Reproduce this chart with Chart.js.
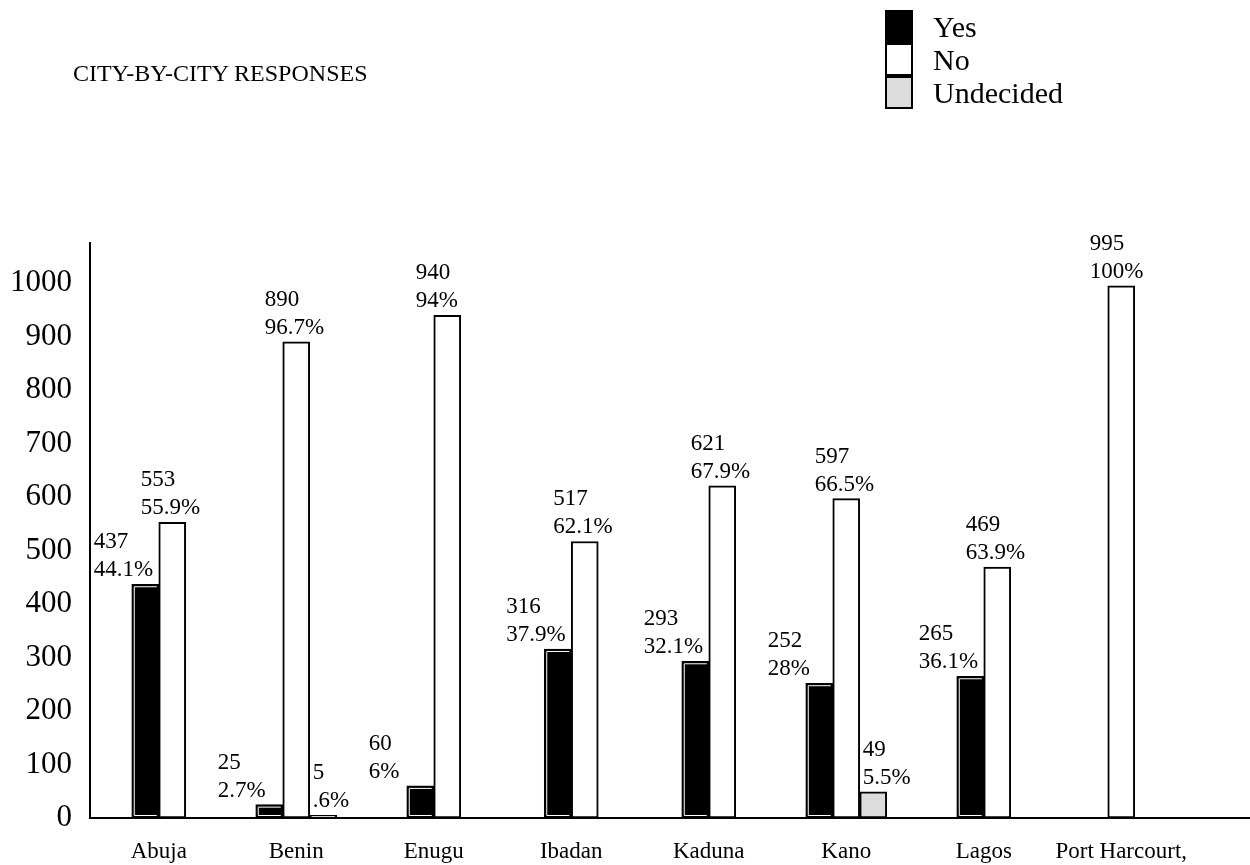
<!DOCTYPE html>
<html>
<head>
<meta charset="utf-8">
<script src="https://cdn.jsdelivr.net/npm/chart.js@4/dist/chart.umd.min.js"></script>
<style>
    html, body { margin: 0; padding: 0; background: #fff; }
    #wrap { position: relative; width: 1250px; height: 865px; font-family: 'Liberation Serif', 'Times New Roman', serif; color: #000; }
    #title { position: absolute; left: 73px; top: 60px; font-size: 24px; white-space: nowrap; }
    #legend { position: absolute; left: 885px; top: 10px; }
    .item { display: flex; align-items: center; height: 33px; }
    .box { width: 24px; height: 29px; border: 2px solid #000; margin-right: 20px; }
    .item span { font-size: 30px; line-height: 30px; }
</style>
</head>
<body>
<div id="wrap">
    <canvas id="chart" width="1250" height="865"></canvas>
    <div id="title">CITY-BY-CITY RESPONSES</div>
    <div id="legend"></div>
</div>
<script>
    // Data
    const cities = ['Abuja', 'Benin', 'Enugu', 'Ibadan', 'Kaduna', 'Kano', 'Lagos', 'Port Harcourt,'];
    const yesCounts = [437, 25, 60, 316, 293, 252, 265, null];
    const noCounts = [553, 890, 940, 517, 621, 597, 469, 995];
    const undecidedCounts = [null, 5, null, null, null, 49, null, null];
    const yesPct = ['44.1%', '2.7%', '6%', '37.9%', '32.1%', '28%', '36.1%', null];
    const noPct = ['55.9%', '96.7%', '94%', '62.1%', '67.9%', '66.5%', '63.9%', '100%'];
    const undecidedPct = [null, '.6%', null, null, null, '5.5%', null, null];
    const yTicks = [0, 100, 200, 300, 400, 500, 600, 700, 800, 900, 1000];

    const serif = "'Liberation Serif', 'Times New Roman', serif";
    const pctLists = [yesPct, noPct, undecidedPct];
    const labelShift = [-38, -18, 3];

    // Two-line value labels above each bar
    const valueLabels = {
        id: 'valueLabels',
        afterDatasetsDraw(chart) {
            const ctx = chart.ctx;
            ctx.save();
            ctx.font = '23px ' + serif;
            ctx.fillStyle = '#000';
            ctx.textAlign = 'left';
            ctx.textBaseline = 'alphabetic';
            chart.data.datasets.forEach((ds, i) => {
                chart.getDatasetMeta(i).data.forEach((bar, j) => {
                    const v = ds.data[j];
                    if (v === null || v === undefined) return;
                    const left = bar.x - bar.width / 2 + labelShift[i];
                    ctx.fillText(String(v), left, bar.y - 36);
                    ctx.fillText(pctLists[i][j], left, bar.y - 8);
                });
            });
            ctx.restore();
        }
    };

    // White inner line on the black bars, and x axis line running to the edge
    const barTrim = {
        id: 'barTrim',
        afterDatasetDraw(chart, args) {
            if (args.index !== 0) return;
            const ctx = chart.ctx;
            ctx.save();
            ctx.strokeStyle = '#fff';
            ctx.lineWidth = 1;
            args.meta.data.forEach((bar, j) => {
                if (yesCounts[j] === null) return;
                const l = bar.x - bar.width / 2 + 2.5;
                const r = bar.x + bar.width / 2 - 2;
                const t = bar.y + 2.5;
                const b = bar.base - 2.5;
                ctx.beginPath();
                ctx.moveTo(r, t);
                ctx.lineTo(l, t);
                ctx.lineTo(l, b);
                ctx.lineTo(r, b);
                ctx.stroke();
            });
            ctx.restore();
        },
        afterDraw(chart) {
            const ctx = chart.ctx;
            const a = chart.chartArea;
            ctx.save();
            ctx.strokeStyle = '#000';
            ctx.lineWidth = 2;
            ctx.beginPath();
            ctx.moveTo(a.left - 1, a.bottom);
            ctx.lineTo(chart.width, a.bottom);
            ctx.stroke();
            ctx.restore();
        }
    };

    const chart = new Chart(document.getElementById('chart'), {
        type: 'bar',
        data: {
            labels: cities,
            datasets: [{
                label: 'Yes',
                data: yesCounts,
                backgroundColor: '#000'
            }, {
                label: 'No',
                data: noCounts,
                backgroundColor: '#fff'
            }, {
                label: 'Undecided',
                data: undecidedCounts,
                backgroundColor: '#dcdcdc'
            }]
        },
        options: {
            responsive: false,
            animation: false,
            skipNull: true,
            datasets: {
                bar: {
                    barThickness: 27,
                    borderWidth: 2,
                    borderColor: '#000',
                    borderSkipped: false
                }
            },
            layout: {
                padding: { top: 243, right: 60, left: 0, bottom: 0 }
            },
            plugins: {
                legend: { display: false },
                tooltip: { enabled: false },
                title: { display: false }
            },
            scales: {
                x: {
                    offset: true,
                    grid: { display: false, drawTicks: false },
                    border: { display: false },
                    ticks: {
                        color: '#000',
                        font: { family: serif, size: 23 },
                        padding: 20,
                        maxRotation: 0,
                        autoSkip: false
                    },
                    afterFit: s => { s.height = 47; }
                },
                y: {
                    min: 0,
                    max: 1075,
                    grid: { display: false, drawTicks: false },
                    border: { color: '#000', width: 2 },
                    ticks: {
                        stepSize: 100,
                        includeBounds: false,
                        color: '#000',
                        font: { family: serif, size: 31 },
                        padding: 18,
                        callback: v => yTicks.includes(v) ? String(v) : null
                    },
                    afterFit: s => { s.width = 90; }
                }
            }
        },
        plugins: [valueLabels, barTrim]
    });

    // Legend built from the chart's own datasets
    const legendEl = document.getElementById('legend');
    chart.data.datasets.forEach(ds => {
        const row = document.createElement('div');
        row.className = 'item';
        const box = document.createElement('div');
        box.className = 'box';
        box.style.background = ds.backgroundColor;
        const text = document.createElement('span');
        text.textContent = ds.label;
        row.appendChild(box);
        row.appendChild(text);
        legendEl.appendChild(row);
    });
</script>
</body>
</html>
